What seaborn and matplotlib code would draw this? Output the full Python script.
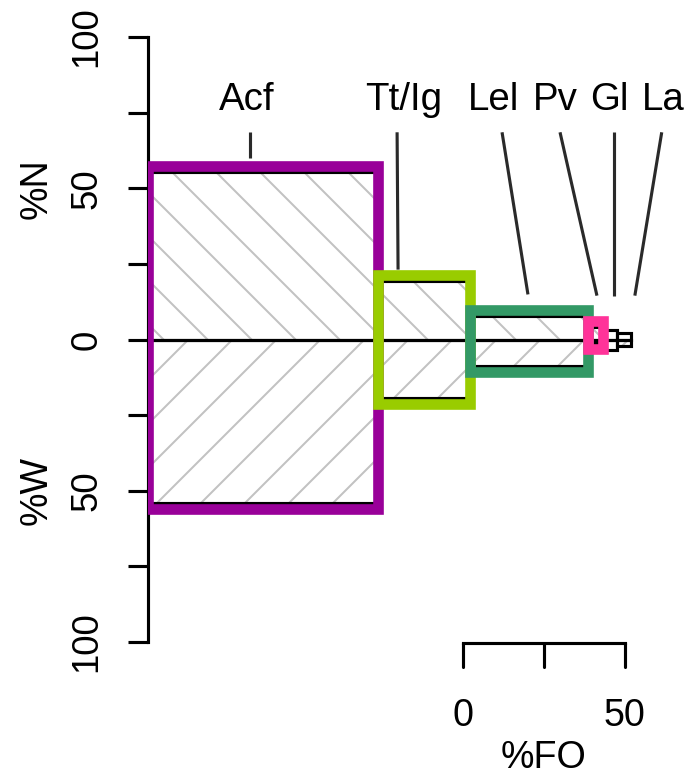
# Costello-style diet plot: box width = %FO, up = %N, down = %W

import numpy as np
import pandas as pd
import seaborn as sns
import matplotlib.pyplot as plt
from matplotlib.patches import Rectangle

prey = ["Acf", "Tt/Ig", "Lel", "Pv", "Gl", "La"]
fo = [71.0, 28.4, 36.4, 4.6, 4.3, 4.3]
pct_n = [55.5, 19.5, 7.9, 4.0, 3.3, 2.3]
pct_w = [54.0, 19.5, 8.6, 1.0, 3.6, 2.3]
box_colors = ["#990099", "#99cc00", "#339966", "#ff3399", None, None]

y_ticks = [-100, -75, -50, -25, 0, 25, 50, 75, 100]
y_ticklabels = ["100", "", "50", "", "0", "", "50", "", "100"]
fo_ticks = [0, 25, 50]
fo_ticklabels = ["0", "", "50"]

# label placement (layout only)
label_x = [30.6, 78.8, 106.8, 125.8, 142.3, 159.1]
line_top_x = [31.5, 76.9, 109.3, 127.2, 143.8, 158.6]
line_end_x = [31.5, 77.2, 117.3, 138.6, 143.8, 150.3]
line_end_y = [60.1, 23.1, 14.9, 14.5, 14.5, 14.5]

DPI = 132
W, H = 687, 777
sns.set_theme(style="white")
plt.rcParams["font.family"] = ["Liberation Sans", "DejaVu Sans"]
plt.rcParams["text.color"] = "black"
plt.rcParams["ytick.color"] = "black"
plt.rcParams["ytick.labelcolor"] = "black"
plt.rcParams["hatch.linewidth"] = 1.1

fig = plt.figure(figsize=(W / DPI, H / DPI), dpi=DPI)
ax = fig.add_axes([148 / W, 135 / H, 539 / W, 605 / H])
XMAX = 166.4

edges = np.concatenate([[0], np.cumsum(fo)])
df = pd.DataFrame({
    "prey": prey,
    "center": (edges[:-1] + edges[1:]) / 2,
    "n": pct_n,
    "w": [-v for v in pct_w],
})
bins = list(edges)

# hatched fill, then black outlines
for col, hatch in [("n", "\\"), ("w", "/")]:
    sns.histplot(data=df, x="center", weights=col, bins=bins, stat="count",
                 ax=ax, color="white", alpha=1, edgecolor="#c2c2c2",
                 linewidth=0, hatch=hatch, zorder=1)
    sns.histplot(data=df, x="center", weights=col, bins=bins, stat="count",
                 ax=ax, fill=False, color="black", alpha=1, linewidth=1.7,
                 zorder=2)

# coloured frames around the main prey
sy = 605 / 200
pad = 6 / sy
for left, wd, n, w, c in zip(edges[:-1], fo, pct_n, pct_w, box_colors):
    if c is None:
        continue
    ax.add_patch(Rectangle((left, -w - pad), wd, n + w + 2 * pad, fill=False,
                           edgecolor=c, linewidth=5.8, zorder=4,
                           joinstyle="miter"))

# prey labels with leader lines
for name, lx, tx, ex, ey in zip(prey, label_x, line_top_x, line_end_x, line_end_y):
    ax.text(lx, 76, name, ha="center", va="baseline", fontsize=21, color="black")
    ax.plot([tx, ex], [68.5, ey], color="#2a2a2a", lw=1.7, zorder=5,
            solid_capstyle="butt")

ax.set_xlim(0, XMAX)
ax.set_ylim(-100, 100)
ax.set_xlabel("")
ax.set_ylabel("")
ax.set_xticks([])
for s in ["top", "right", "bottom"]:
    ax.spines[s].set_visible(False)
ax.spines["left"].set_linewidth(1.7)
ax.spines["left"].set_color("black")
ax.spines["left"].set_bounds(-100, 100)
ax.set_yticks(y_ticks)
ax.set_yticklabels(y_ticklabels)
ax.tick_params(axis="y", length=10.9, width=1.7, pad=13, labelsize=20,
               labelrotation=90, left=True, color="black", labelcolor="black")
for t in ax.get_yticklabels():
    t.set_va("center")

ytr = ax.get_yaxis_transform()
ax.text(-0.206, 50, "%N", transform=ytr, rotation=90, ha="center",
        va="center", fontsize=20.5, color="black")
ax.text(-0.206, -50, "%W", transform=ytr, rotation=90, ha="center",
        va="center", fontsize=20.5, color="black")

# %FO scale bar
x0 = 97.2
ax.plot([x0, x0 + fo_ticks[-1]], [-100.3, -100.3], color="black", lw=1.7,
        clip_on=False, solid_capstyle="projecting")
for t, lab in zip(fo_ticks, fo_ticklabels):
    ax.plot([x0 + t, x0 + t], [-100.3, -108.1], color="black", lw=1.7,
            clip_on=False)
    if lab:
        ax.text(x0 + t, -124.5, lab, ha="center", va="center", fontsize=20.5,
                color="black")
ax.text(x0 + 25, -138.5, "%FO", ha="center", va="center", fontsize=20.5,
        color="black")

fig.savefig("out.png", dpi=DPI)
